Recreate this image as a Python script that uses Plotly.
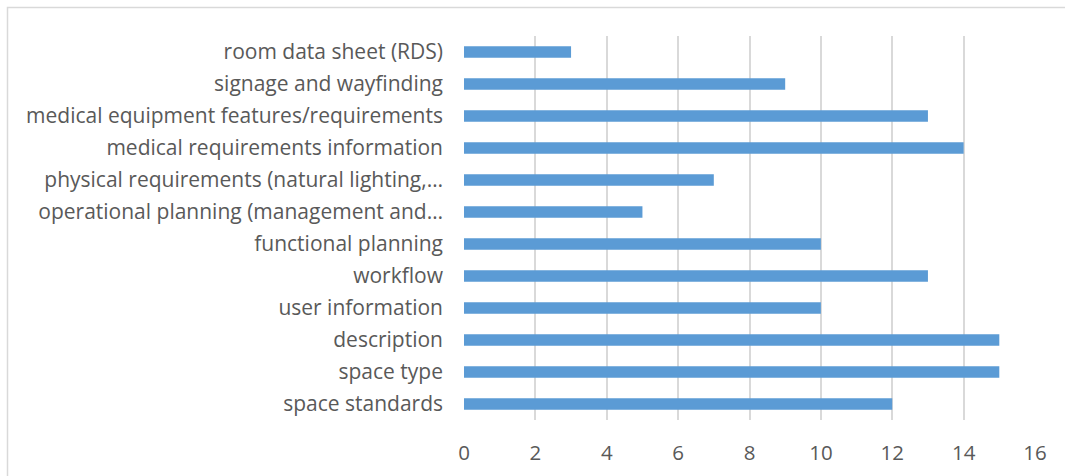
import plotly.graph_objects as go

categories = [
    "space standards",
    "space type",
    "description",
    "user information",
    "workflow",
    "functional planning",
    "operational planning (management and…",
    "physical requirements (natural lighting,…",
    "medical requirements information",
    "medical equipment features/requirements",
    "signage and wayfinding",
    "room data sheet (RDS)",
]
counts = [12, 15, 15, 10, 13, 10, 5, 7, 14, 13, 9, 3]
x_ticks = [0, 2, 4, 6, 8, 10, 12, 14, 16]

W, H = 1065, 476
ML, MR, MT, MB = 464, 30, 36, 56

fig = go.Figure(
    go.Bar(
        y=categories,
        x=counts,
        orientation="h",
        marker=dict(color="#5B9BD5", line=dict(width=0)),
        width=0.36,
    )
)

pw = W - ML - MR
ph = H - MT - MB


def px_to_paper_x(px):
    return (px - ML) / pw


def px_to_paper_y(py):
    return (H - MB - py) / ph


# light frame around the chart area
fig.add_shape(
    type="rect",
    xref="paper", yref="paper",
    x0=px_to_paper_x(7.5), x1=px_to_paper_x(1070),
    y0=px_to_paper_y(480), y1=px_to_paper_y(7.5),
    line=dict(color="#D9D9D9", width=1.5),
    fillcolor="rgba(0,0,0,0)",
    layer="below",
)

fig.update_layout(
    width=W, height=H,
    margin=dict(l=ML, r=MR, t=MT, b=MB, autoexpand=False),
    paper_bgcolor="white",
    plot_bgcolor="white",
    showlegend=False,
    bargap=0.64,
    font=dict(family="Open Sans, Calibri, sans-serif", color="#595959"),
)
fig.update_xaxes(
    range=[0, 16],
    tickvals=x_ticks,
    ticktext=[str(v) for v in x_ticks],
    showgrid=True,
    gridcolor="#D9D9D9",
    gridwidth=1.5,
    zeroline=False,
    showline=False,
    tickfont=dict(size=20.5, color="#595959"),
    ticks="",
    ticklabelstandoff=18,
    automargin=False,
)
fig.update_yaxes(
    categoryorder="array",
    categoryarray=categories,
    range=[-0.5, 11.5],
    showgrid=False,
    zeroline=False,
    showline=False,
    tickfont=dict(size=21, color="#595959"),
    ticks="",
    ticklabelstandoff=20,
    automargin=False,
)

fig.write_html("out.html")
